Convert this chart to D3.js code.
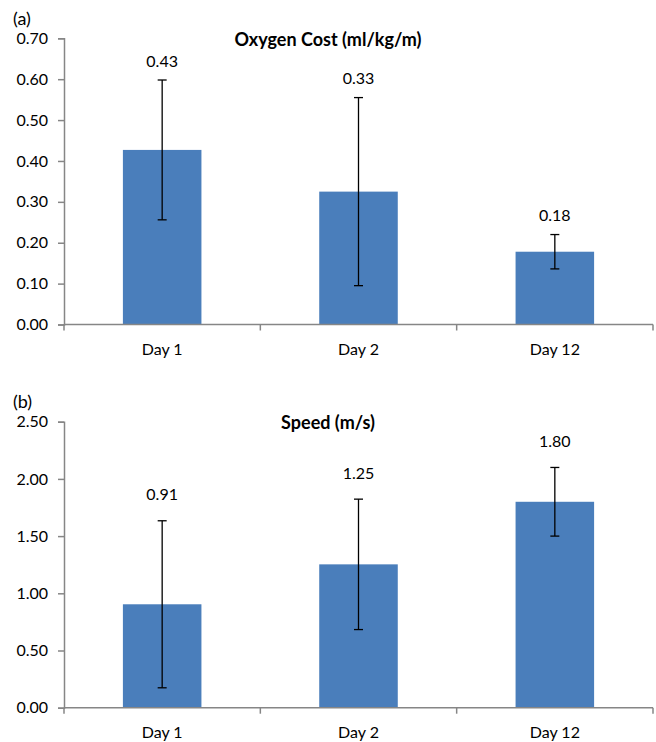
<!DOCTYPE html>
<html>
<head>
<meta charset="utf-8">
<script src="https://cdn.jsdelivr.net/npm/d3@7"></script>
<style>
  body { margin: 0; background: #fff; }
  svg text { font-family: Lato, "Open Sans", sans-serif; fill: #000; }
</style>
</head>
<body>
<svg id="chart" width="656" height="742"></svg>
<script>
var days = ["Day 1", "Day 2", "Day 12"]

var oxygenMean = [0.427, 0.325, 0.178]
var oxygenErr = [0.171, 0.230, 0.042]
var oxygenLabels = ["0.43", "0.33", "0.18"]
var oxygenTicks = [0, 0.1, 0.2, 0.3, 0.4, 0.5, 0.6, 0.7]

var speedMean = [0.904, 1.253, 1.80]
var speedErr = [0.73, 0.57, 0.30]
var speedLabels = ["0.91", "1.25", "1.80"]
var speedTicks = [0, 0.5, 1.0, 1.5, 2.0, 2.5]

var axisColor = "#868686"
var barColor = "#4a7ebb"
var fontSize = 16

var svg = d3.select("#chart")

function drawPanel(opts) {
    var g = svg.append("g")

    var x = d3.scaleBand()
        .domain(days)
        .range([64, 653])
        .paddingInner(0.6)
        .paddingOuter(0.3)

    var y = d3.scaleLinear()
        .domain([0, opts.max])
        .range([opts.bottom, opts.top])

    var yAxis = d3.axisLeft(y)
        .tickValues(opts.ticks)
        .tickSize(6)
        .tickPadding(10)
        .tickFormat(d3.format(".2f"))

    var ya = g.append("g")
        .attr("transform", "translate(64,0)")
        .call(yAxis)
    ya.select(".domain").attr("stroke", axisColor).attr("stroke-width", 1.5)
    ya.selectAll(".tick line").attr("stroke", axisColor).attr("stroke-width", 1.5)
    ya.selectAll(".tick text").attr("font-size", fontSize).attr("font-family", "Lato, sans-serif")

    var data = days.map(function (d, i) {
        return { day: d, mean: opts.mean[i], err: opts.err[i], label: opts.labels[i] }
    })

    // bars
    g.selectAll(".bar")
        .data(data)
        .enter()
        .append("rect")
        .attr("x", function (d) { return x(d.day) })
        .attr("width", x.bandwidth())
        .attr("y", function (d) { return y(d.mean) })
        .attr("height", function (d) { return y(0) - y(d.mean) })
        .attr("fill", barColor)

    // x axis line + category boundary ticks
    var r = x.range()
    g.append("line")
        .attr("x1", r[0]).attr("x2", r[1])
        .attr("y1", y(0)).attr("y2", y(0))
        .attr("stroke", axisColor).attr("stroke-width", 1.5)
    var step = x.step()
    d3.range(days.length + 1).forEach(function (i) {
        var xx = r[0] + i * step
        g.append("line")
            .attr("x1", xx).attr("x2", xx)
            .attr("y1", y(0)).attr("y2", y(0) + 6)
            .attr("stroke", axisColor).attr("stroke-width", 1.5)
    })

    g.selectAll(".xlab")
        .data(data)
        .enter()
        .append("text")
        .attr("x", function (d) { return x(d.day) + x.bandwidth() / 2 })
        .attr("y", y(0) + 25)
        .attr("dy", "0.35em")
        .attr("text-anchor", "middle")
        .attr("font-size", fontSize)
        .text(function (d) { return d.day })

    // error bars
    var eb = g.selectAll(".err")
        .data(data)
        .enter()
        .append("g")
    eb.append("line")
        .attr("x1", function (d) { return x(d.day) + x.bandwidth() / 2 })
        .attr("x2", function (d) { return x(d.day) + x.bandwidth() / 2 })
        .attr("y1", function (d) { return y(d.mean + d.err) })
        .attr("y2", function (d) { return y(d.mean - d.err) })
        .attr("stroke", "#000").attr("stroke-width", 1.3)
    ;[1, -1].forEach(function (s) {
        eb.append("line")
            .attr("x1", function (d) { return x(d.day) + x.bandwidth() / 2 - 4.5 })
            .attr("x2", function (d) { return x(d.day) + x.bandwidth() / 2 + 4.5 })
            .attr("y1", function (d) { return y(d.mean + s * d.err) })
            .attr("y2", function (d) { return y(d.mean + s * d.err) })
            .attr("stroke", "#000").attr("stroke-width", 1.3)
    })

    // value labels
    g.selectAll(".vlab")
        .data(data)
        .enter()
        .append("text")
        .attr("x", function (d) { return x(d.day) + x.bandwidth() / 2 })
        .attr("y", function (d) { return y(d.mean + d.err) - opts.labelGap })
        .attr("dy", "0.35em")
        .attr("text-anchor", "middle")
        .attr("font-size", fontSize)
        .text(function (d) { return d.label })

    // title + panel letter
    g.append("text")
        .attr("x", 328)
        .attr("y", opts.top + 1)
        .attr("dy", "0.35em")
        .attr("text-anchor", "middle")
        .attr("font-size", 18)
        .attr("font-weight", "bold")
        .text(opts.title)

    g.append("text")
        .attr("x", 13)
        .attr("y", opts.top - 20)
        .attr("dy", "0.35em")
        .attr("font-size", 18)
        .attr("font-family", "Liberation Sans, Arial, sans-serif")
        .text(opts.letter)
}

drawPanel({
    top: 38.3, bottom: 324.5, max: 0.7, ticks: oxygenTicks,
    mean: oxygenMean, err: oxygenErr, labels: oxygenLabels,
    labelGap: 19, title: "Oxygen Cost (ml/kg/m)", letter: "(a)"
})

drawPanel({
    top: 421.7, bottom: 707.7, max: 2.5, ticks: speedTicks,
    mean: speedMean, err: speedErr, labels: speedLabels,
    labelGap: 26, title: "Speed (m/s)", letter: "(b)"
})
</script>
</body>
</html>
